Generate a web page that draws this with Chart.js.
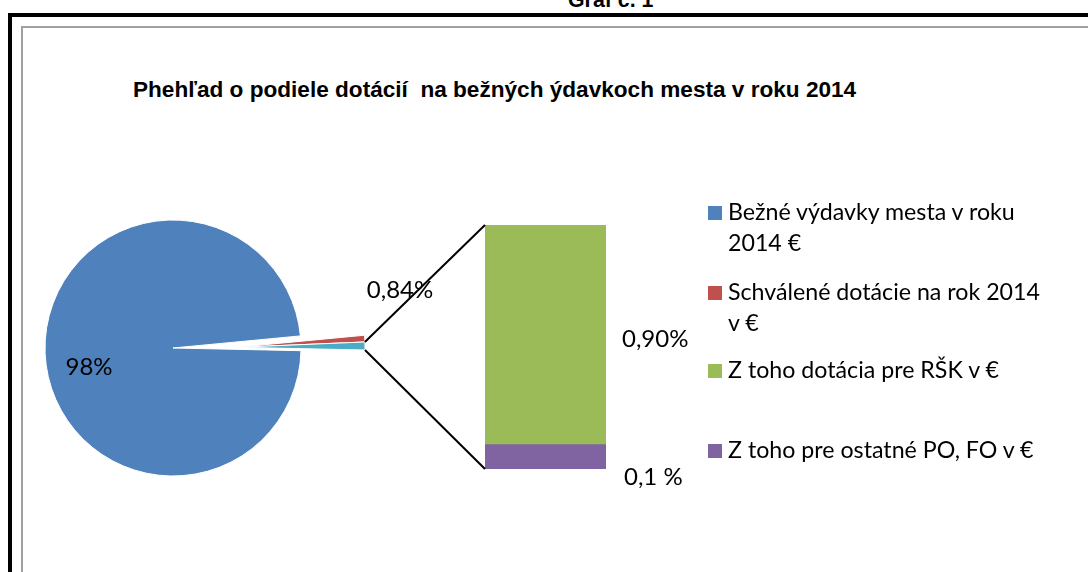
<!DOCTYPE html>
<html>
<head>
<meta charset="utf-8">
<script src="https://cdn.jsdelivr.net/npm/chart.js@4"></script>
<style>
  body { margin: 0; width: 1088px; height: 572px; overflow: hidden; background: #fff; position: relative; }
  #graf { position: absolute; left: 568px; top: -10px; font: bold 21.33px "Liberation Sans", Arial, sans-serif; line-height: 21.33px; color: #000; }
  #frame { position: absolute; left: 8px; top: 13px; width: 1200px; height: 700px; border: 4px solid #000; }
  #inner { position: absolute; left: 21px; top: 26px; width: 1200px; height: 700px; border: 2px solid #a0a0a0; }
  #title { position: absolute; left: 133px; top: 79px; font: bold 22.6px "Liberation Sans", Arial, sans-serif; line-height: 22.6px; white-space: pre; color: #000; }
  canvas { position: absolute; left: 0; top: 0; }
  .item { position: absolute; left: 708px; font: 23.2px Lato, sans-serif; line-height: 31px; color: #000; white-space: pre; }
  .item span.box { position: absolute; left: 0; top: 10px; width: 14px; height: 14px; }
  .item span.txt { position: absolute; left: 20px; top: 0; }
</style>
</head>
<body>
<div id="graf">Graf č. 1</div>
<div id="frame"></div>
<div id="inner"></div>
<div id="title">Phehľad o podiele dotácií  na bežných ýdavkoch mesta v roku 2014</div>
<canvas id="pie" width="1088" height="572"></canvas>
<canvas id="bar" width="1088" height="572"></canvas>
<div id="legend"></div>
<script>
// legend categories
const categories = [
  "Bežné výdavky mesta v roku\n2014 €",
  "Schválené dotácie na rok 2014\nv €",
  "Z toho dotácia pre RŠK v €",
  "Z toho pre ostatné PO, FO v €"
];
const colors = ["#4F81BD", "#C0504D", "#9BBB59", "#8064A2"];
const otherColor = "#4BACC6";

// pie: main slices + "other" (sum of the bar parts)
const pieValues = [98.16, 0.84];
const pieLabels = ["98%", "0,84%"];
// bar (split of "other"), bottom first
const barValues = [0.10, 0.90];
const barLabels = ["0,1 %", "0,90%"];

const otherValue = barValues.reduce((a, b) => a + b, 0);

// style bits
const explodeDist = [0, 64, 64];
const pieLabelOffset = [[-84, 19], [227, -58]];
const barLabelOffset = [[18, 20], [16, 4]];
const labelFont = "24px Lato, sans-serif";

// legend
const legend = document.getElementById("legend");
const legendTops = [196, 275.5, 353.5, 433.5];
categories.forEach((c, i) => {
  const d = document.createElement("div");
  d.className = "item";
  d.style.top = legendTops[i] + "px";
  d.innerHTML = '<span class="box" style="background:' + colors[i] + '"></span><span class="txt"></span>';
  d.querySelector(".txt").textContent = c;
  legend.appendChild(d);
});

// draw pie slices exploded along the "other" slice direction
const explodePlugin = {
  id: "explode",
  beforeDatasetDraw(chart, args) {
    const ctx = chart.ctx;
    const arcs = args.meta.data;
    const last = arcs[arcs.length - 1];
    const dir = (last.startAngle + last.endAngle) / 2;
    arcs.forEach((arc, i) => {
      const d = explodeDist[i] || 0;
      ctx.save();
      ctx.translate(Math.cos(dir) * d, Math.sin(dir) * d);
      arc.draw(ctx, chart.chartArea);
      ctx.restore();
    });
    return false;
  },
  afterDatasetsDraw(chart) {
    const ctx = chart.ctx;
    const arcs = chart.getDatasetMeta(0).data;
    ctx.save();
    ctx.font = labelFont;
    ctx.fillStyle = "#000";
    ctx.textAlign = "center";
    ctx.textBaseline = "middle";
    pieLabels.forEach((t, i) => {
      const a = arcs[i];
      ctx.fillText(t, a.x + pieLabelOffset[i][0], a.y + pieLabelOffset[i][1]);
    });
    ctx.restore();
  }
};

const cx = 173, cy = 348, half = 150;
const pieChart = new Chart(document.getElementById("pie"), {
  type: "pie",
  data: {
    labels: [categories[0], categories[1], "Ostatné"],
    datasets: [{
      data: [...pieValues, otherValue],
      backgroundColor: [colors[0], colors[1], otherColor],
      borderColor: "#fff",
      borderWidth: 1
    }]
  },
  options: {
    responsive: false,
    animation: false,
    rotation: 91.2,
    radius: 128,
    layout: { padding: { left: cx - half, right: 1088 - cx - half, top: cy - half, bottom: 572 - cy - half } },
    plugins: { legend: { display: false }, tooltip: { enabled: false } }
  },
  plugins: [explodePlugin]
});

// connector lines + bar labels
const barPlugin = {
  id: "barExtras",
  afterDatasetsDraw(chart) {
    const ctx = chart.ctx;
    const arcs = pieChart.getDatasetMeta(0).data;
    const o = arcs[arcs.length - 1];
    const dir = (o.startAngle + o.endAngle) / 2;
    const d = explodeDist[arcs.length - 1];
    const tx = o.x + Math.cos(dir) * d, ty = o.y + Math.sin(dir) * d;
    const p1 = [tx + Math.cos(o.startAngle) * o.outerRadius, ty + Math.sin(o.startAngle) * o.outerRadius];
    const p2 = [tx + Math.cos(o.endAngle) * o.outerRadius, ty + Math.sin(o.endAngle) * o.outerRadius];
    const bottom = chart.getDatasetMeta(0).data[0];
    const top = chart.getDatasetMeta(1).data[0];
    const left = top.x - top.width / 2;
    ctx.save();
    ctx.strokeStyle = "#000";
    ctx.lineWidth = 2;
    ctx.beginPath();
    ctx.moveTo(p1[0], p1[1]);
    ctx.lineTo(left, top.y);
    ctx.moveTo(p2[0], p2[1]);
    ctx.lineTo(left, bottom.base);
    ctx.stroke();

    ctx.font = labelFont;
    ctx.fillStyle = "#000";
    ctx.textAlign = "left";
    ctx.textBaseline = "middle";
    barLabels.forEach((t, i) => {
      const b = chart.getDatasetMeta(i).data[0];
      const mid = (b.y + b.base) / 2;
      ctx.fillText(t, b.x + b.width / 2 + barLabelOffset[i][0], mid + barLabelOffset[i][1]);
    });
    ctx.restore();
  }
};

new Chart(document.getElementById("bar"), {
  type: "bar",
  data: {
    labels: ["Ostatné"],
    datasets: [
      { label: categories[3], data: [barValues[0]], backgroundColor: colors[3], borderWidth: 0 },
      { label: categories[2], data: [barValues[1]], backgroundColor: colors[2], borderWidth: 0 }
    ]
  },
  options: {
    responsive: false,
    animation: false,
    barPercentage: 1,
    categoryPercentage: 1,
    layout: { padding: { left: 485, right: 482, top: 225, bottom: 103 } },
    scales: {
      x: { display: false, stacked: true },
      y: { display: false, stacked: true, min: 0, max: otherValue }
    },
    plugins: { legend: { display: false }, tooltip: { enabled: false } }
  },
  plugins: [barPlugin]
});
</script>
</body>
</html>
